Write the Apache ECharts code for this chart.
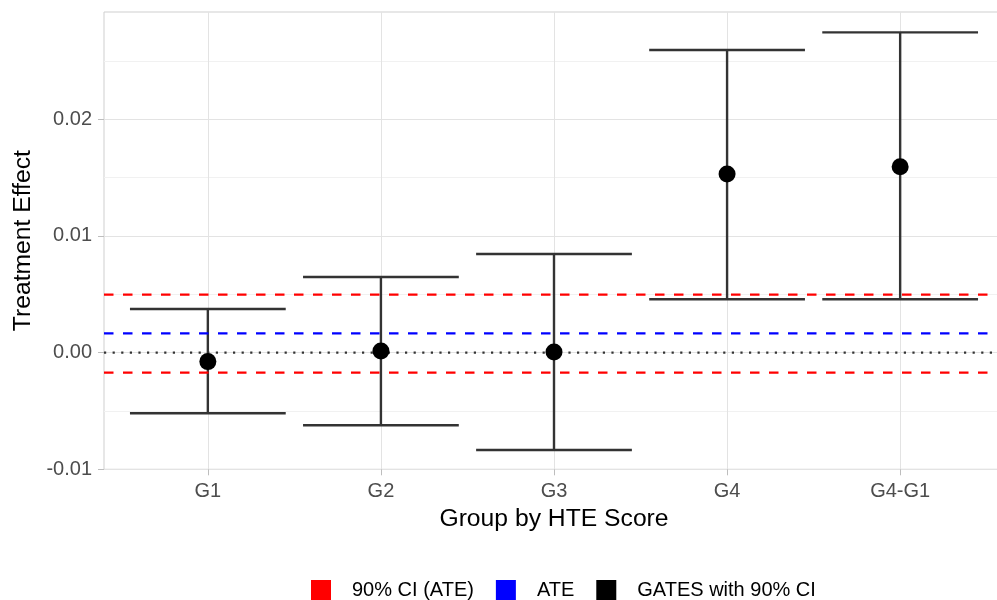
<!DOCTYPE html>
<html>
<head>
<meta charset="utf-8">
<script src="https://cdn.jsdelivr.net/npm/echarts@6/dist/echarts.min.js"></script>
<style>html,body{margin:0;padding:0;background:#fff}#c{width:997px;height:600px}</style>
</head>
<body>
<div id="c"></div>
<script>
// ---- data ----
const categories = ['G1', 'G2', 'G3', 'G4', 'G4-G1'];
const estimates = [-0.00077, 0.00015, 0.00005, 0.01531, 0.01594];
const lowerCI = [-0.00519, -0.00622, -0.00834, 0.00458, 0.00458];
const upperCI = [0.00374, 0.00649, 0.00846, 0.02594, 0.02745];
const ateValue = [0.00166];
const ateCI = [-0.00171, 0.00497];
const zeroLine = [0];
const yMajorTicks = [-0.01, 0.00, 0.01, 0.02];
const yMinorTicks = [-0.005, 0.005, 0.015, 0.025];

const FONT = "'Liberation Sans', Arial, Helvetica, sans-serif";
const catIdx = categories.map((c, i) => i);

function hlineSeries(name, values, color, width, dash, z) {
  return {
    name: name, type: 'custom', z: z, silent: true,
    color: color, itemStyle: {color: color},
    data: values.map(v => [v]),
    encode: {y: 0},
    renderItem: function (params, api) {
      const cs = params.coordSys;
      const y = api.coord([0, api.value(0)])[1];
      return {
        type: 'line',
        shape: {x1: cs.x, y1: y, x2: cs.x + cs.width, y2: y},
        style: {stroke: color, lineWidth: width, lineDash: dash, fill: null}
      };
    }
  };
}

const chart = echarts.init(document.getElementById('c'), null, {renderer: 'canvas'});
const option = {
  backgroundColor: '#ffffff',
  animation: false,
  textStyle: {fontFamily: FONT},
  grid: {
    left: 104, top: 12, right: -7, bottom: 130.7,
    containLabel: false, outerBoundsMode: 'none',
    show: true, borderColor: '#cfcfcf', borderWidth: 1, backgroundColor: 'transparent'
  },
  legend: {
    left: 311, top: 580, padding: 0,
    icon: 'rect', itemWidth: 20, itemHeight: 20, itemGap: 22,
    data: ['90% CI (ATE)', 'ATE', 'GATES with 90% CI'],
    textStyle: {fontFamily: FONT, fontSize: 20, color: '#000', padding: [0, 0, 0, 16]}
  },
  xAxis: {
    type: 'value', min: -0.6, max: 4.6,
    name: 'Group by HTE Score', nameLocation: 'middle', nameGap: 37,
    nameTextStyle: {fontFamily: FONT, fontSize: 24.7, color: '#000'},
    axisLine: {show: false, onZero: false},
    axisTick: {show: true, length: 6, customValues: catIdx, lineStyle: {color: '#bdbdbd', width: 1}},
    axisLabel: {customValues: catIdx, formatter: v => categories[Math.round(v)], margin: 12,
      fontFamily: FONT, fontSize: 20, color: '#4d4d4d'},
    splitLine: {show: true, lineStyle: {color: '#e3e3e3', width: 1}}
  },
  yAxis: [{
    type: 'value', min: -0.01, max: 0.0292,
    name: 'Treatment Effect', nameLocation: 'middle', nameGap: 68, nameRotate: 90,
    nameTextStyle: {fontFamily: FONT, fontSize: 24.7, color: '#000'},
    axisLine: {show: false, onZero: false},
    axisTick: {show: true, length: 6, customValues: yMajorTicks, lineStyle: {color: '#bdbdbd', width: 1}},
    axisLabel: {customValues: yMajorTicks, formatter: v => v.toFixed(2), margin: 12,
      fontFamily: FONT, fontSize: 20, color: '#4d4d4d'},
    splitLine: {show: true, lineStyle: {color: '#e3e3e3', width: 1}}
  }, {
    type: 'value', min: -0.01, max: 0.0292, position: 'left',
    axisLine: {show: false, onZero: false},
    axisTick: {show: false, customValues: yMinorTicks},
    axisLabel: {show: false, customValues: yMinorTicks},
    splitLine: {show: true, lineStyle: {color: '#f1f1f1', width: 1}}
  }],
  series: [
    {
      name: 'GATES with 90% CI',
      type: 'custom',
      z: 2,
      itemStyle: {color: '#000'},
      data: catIdx.map(i => [i, lowerCI[i], upperCI[i]]),
      encode: {x: 0, y: [1, 2]},
      renderItem: function (params, api) {
        const x = api.value(0);
        const pLo = api.coord([x, api.value(1)]);
        const pHi = api.coord([x, api.value(2)]);
        const half = api.size([0.9, 0])[0] / 2;
        const st = {stroke: '#333', lineWidth: 2.4, fill: null};
        return {
          type: 'group',
          children: [
            {type: 'line', shape: {x1: pHi[0], y1: pHi[1], x2: pLo[0], y2: pLo[1]}, style: st},
            {type: 'line', shape: {x1: pHi[0] - half, y1: pHi[1], x2: pHi[0] + half, y2: pHi[1]}, style: st},
            {type: 'line', shape: {x1: pLo[0] - half, y1: pLo[1], x2: pLo[0] + half, y2: pLo[1]}, style: st}
          ]
        };
      }
    },
    hlineSeries('zero', zeroLine, '#333', 2.2, [2.2, 6.4], 3),
    hlineSeries('90% CI (ATE)', ateCI, '#ff0000', 2.2, [9.5, 9.5], 3),
    hlineSeries('ATE', ateValue, '#0000ff', 2.2, [9.5, 9.5], 3),
    {
      name: 'GATES with 90% CI', type: 'scatter', z: 4,
      symbol: 'circle', symbolSize: 17,
      itemStyle: {color: '#000', opacity: 1},
      data: catIdx.map(i => [i, estimates[i]])
    }
  ]
};
chart.setOption(option);
</script>
</body>
</html>
